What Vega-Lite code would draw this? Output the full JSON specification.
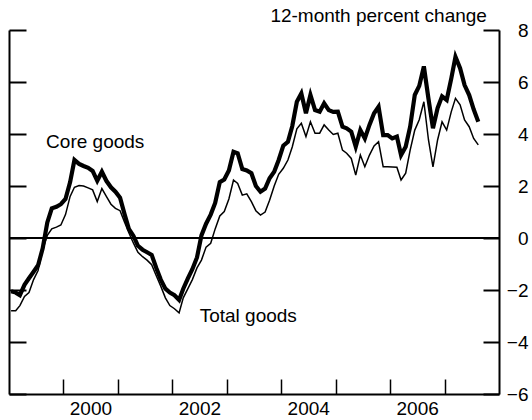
{
  "$schema": "https://vega.github.io/schema/vega-lite/v6.json",
  "width": 490,
  "height": 364,
  "autosize": {"type": "none"},
  "padding": {"left": 9, "top": 30, "right": 33, "bottom": 26},
  "background": "white",
  "config": {"view": {"stroke": null}, "font": "Liberation Sans"},
  "datasets": {
    "prices": [
      {"date": "1999-01-15", "core": -2.05, "total": -2.8},
      {"date": "1999-02-15", "core": -2.1, "total": -2.8},
      {"date": "1999-03-15", "core": -2.2, "total": -2.6},
      {"date": "1999-04-15", "core": -1.8, "total": -2.25},
      {"date": "1999-05-15", "core": -1.55, "total": -2.1},
      {"date": "1999-06-15", "core": -1.3, "total": -1.6},
      {"date": "1999-07-15", "core": -1.05, "total": -1.25},
      {"date": "1999-08-15", "core": -0.4, "total": -0.45},
      {"date": "1999-09-15", "core": 0.6, "total": 0.1},
      {"date": "1999-10-15", "core": 1.14, "total": 0.35},
      {"date": "1999-11-15", "core": 1.2, "total": 0.42},
      {"date": "1999-12-15", "core": 1.3, "total": 0.5},
      {"date": "2000-01-15", "core": 1.5, "total": 0.9},
      {"date": "2000-02-15", "core": 2.15, "total": 1.6},
      {"date": "2000-03-15", "core": 3.0, "total": 1.95},
      {"date": "2000-04-15", "core": 2.85, "total": 2.02},
      {"date": "2000-05-15", "core": 2.77, "total": 2.0},
      {"date": "2000-06-15", "core": 2.7, "total": 1.93},
      {"date": "2000-07-15", "core": 2.58, "total": 1.85},
      {"date": "2000-08-15", "core": 2.2, "total": 1.4},
      {"date": "2000-09-15", "core": 2.55, "total": 1.9},
      {"date": "2000-10-15", "core": 2.2, "total": 1.6},
      {"date": "2000-11-15", "core": 1.95, "total": 1.3},
      {"date": "2000-12-15", "core": 1.78, "total": 1.14},
      {"date": "2001-01-15", "core": 1.55, "total": 1.05},
      {"date": "2001-02-15", "core": 0.9, "total": 0.6},
      {"date": "2001-03-15", "core": 0.35, "total": 0.2},
      {"date": "2001-04-15", "core": 0.08, "total": -0.2},
      {"date": "2001-05-15", "core": -0.3, "total": -0.55},
      {"date": "2001-06-15", "core": -0.45, "total": -0.72},
      {"date": "2001-07-15", "core": -0.55, "total": -0.85},
      {"date": "2001-08-15", "core": -0.65, "total": -1.03},
      {"date": "2001-09-15", "core": -1.15, "total": -1.45},
      {"date": "2001-10-15", "core": -1.6, "total": -1.85},
      {"date": "2001-11-15", "core": -1.95, "total": -2.3},
      {"date": "2001-12-15", "core": -2.1, "total": -2.6},
      {"date": "2002-01-15", "core": -2.2, "total": -2.72},
      {"date": "2002-02-15", "core": -2.38, "total": -2.88},
      {"date": "2002-03-15", "core": -1.95, "total": -2.3},
      {"date": "2002-04-15", "core": -1.55, "total": -1.95},
      {"date": "2002-05-15", "core": -1.2, "total": -1.6},
      {"date": "2002-06-15", "core": -0.75, "total": -1.15},
      {"date": "2002-07-15", "core": 0.1, "total": -0.85},
      {"date": "2002-08-15", "core": 0.55, "total": -0.35},
      {"date": "2002-09-15", "core": 0.9, "total": -0.2},
      {"date": "2002-10-15", "core": 1.35, "total": 0.35},
      {"date": "2002-11-15", "core": 2.15, "total": 0.85},
      {"date": "2002-12-15", "core": 2.25, "total": 1.02},
      {"date": "2003-01-15", "core": 2.6, "total": 1.5},
      {"date": "2003-02-15", "core": 3.32, "total": 2.23},
      {"date": "2003-03-15", "core": 3.26, "total": 2.1},
      {"date": "2003-04-15", "core": 2.65, "total": 1.65},
      {"date": "2003-05-15", "core": 2.6, "total": 1.7},
      {"date": "2003-06-15", "core": 2.49, "total": 1.4},
      {"date": "2003-07-15", "core": 2.0, "total": 1.05},
      {"date": "2003-08-15", "core": 1.78, "total": 0.88},
      {"date": "2003-09-15", "core": 1.9, "total": 1.0},
      {"date": "2003-10-15", "core": 2.3, "total": 1.45},
      {"date": "2003-11-15", "core": 2.55, "total": 2.0},
      {"date": "2003-12-15", "core": 3.0, "total": 2.45},
      {"date": "2004-01-15", "core": 3.55, "total": 2.68},
      {"date": "2004-02-15", "core": 3.7, "total": 3.0},
      {"date": "2004-03-15", "core": 4.3, "total": 3.5},
      {"date": "2004-04-15", "core": 5.24, "total": 4.2},
      {"date": "2004-05-15", "core": 5.56, "total": 4.41},
      {"date": "2004-06-15", "core": 4.8, "total": 3.9},
      {"date": "2004-07-15", "core": 5.5, "total": 4.47},
      {"date": "2004-08-15", "core": 4.92, "total": 4.03},
      {"date": "2004-09-15", "core": 4.86, "total": 4.03},
      {"date": "2004-10-15", "core": 5.18, "total": 4.35},
      {"date": "2004-11-15", "core": 4.92, "total": 4.15},
      {"date": "2004-12-15", "core": 4.85, "total": 3.98},
      {"date": "2005-01-15", "core": 4.86, "total": 4.03},
      {"date": "2005-02-15", "core": 4.28, "total": 3.38},
      {"date": "2005-03-15", "core": 4.22, "total": 3.26},
      {"date": "2005-04-15", "core": 4.09, "total": 3.06},
      {"date": "2005-05-15", "core": 3.51, "total": 2.42},
      {"date": "2005-06-15", "core": 4.15, "total": 3.19},
      {"date": "2005-07-15", "core": 3.83, "total": 2.74},
      {"date": "2005-08-15", "core": 4.35, "total": 3.19},
      {"date": "2005-09-15", "core": 4.8, "total": 3.54},
      {"date": "2005-10-15", "core": 5.05, "total": 3.7},
      {"date": "2005-11-15", "core": 3.96, "total": 2.74},
      {"date": "2005-12-15", "core": 3.96, "total": 2.74},
      {"date": "2006-01-15", "core": 3.83, "total": 2.73},
      {"date": "2006-02-15", "core": 3.9, "total": 2.72},
      {"date": "2006-03-15", "core": 3.19, "total": 2.23},
      {"date": "2006-04-15", "core": 3.51, "total": 2.49},
      {"date": "2006-05-15", "core": 4.28, "total": 3.38},
      {"date": "2006-06-15", "core": 5.5, "total": 4.15},
      {"date": "2006-07-15", "core": 5.85, "total": 4.55},
      {"date": "2006-08-15", "core": 6.6, "total": 5.24},
      {"date": "2006-09-15", "core": 5.35, "total": 3.77},
      {"date": "2006-10-15", "core": 4.22, "total": 2.74},
      {"date": "2006-11-15", "core": 5.0, "total": 3.77},
      {"date": "2006-12-15", "core": 5.45, "total": 4.47},
      {"date": "2007-01-15", "core": 5.31, "total": 4.15},
      {"date": "2007-02-15", "core": 6.14, "total": 4.86},
      {"date": "2007-03-15", "core": 6.97, "total": 5.37},
      {"date": "2007-04-15", "core": 6.53, "total": 5.12},
      {"date": "2007-05-15", "core": 5.88, "total": 4.54},
      {"date": "2007-06-15", "core": 5.5, "total": 4.28},
      {"date": "2007-07-15", "core": 4.95, "total": 3.83},
      {"date": "2007-08-15", "core": 4.47, "total": 3.58}
    ]
  },
  "resolve": {"axis": {"y": "independent"}},
  "layer": [
    {
      "data": {"values": [{}]},
      "mark": {"type": "rule", "stroke": "black", "strokeWidth": 2},
      "encoding": {
        "y": {"datum": 0, "type": "quantitative", "scale": {"domain": [-6, 8], "nice": false},
          "axis": {"orient": "left", "values": [-6, -4, -2, 0, 2, 4, 6, 8], "labels": false, "tickSize": -17, "tickWidth": 2, "tickColor": "black", "domainColor": "black", "domainWidth": 2, "grid": false, "title": null}}
      }
    },
    {
      "data": {"name": "prices"},
      "transform": [{"fold": ["core", "total"], "as": ["series", "value"]}],
      "mark": {"type": "line", "stroke": "black", "strokeJoin": "miter"},
      "encoding": {
        "x": {"field": "date", "type": "temporal",
          "scale": {"type": "utc", "domain": [{"year": 1999, "month": 1, "date": 1, "utc": true}, {"year": 2008, "month": 1, "date": 1, "utc": true}]},
          "axis": {"orient": "bottom", "values": [
              {"year": 2000, "month": 1, "date": 1, "utc": true},
              {"year": 2001, "month": 1, "date": 1, "utc": true},
              {"year": 2002, "month": 1, "date": 1, "utc": true},
              {"year": 2003, "month": 1, "date": 1, "utc": true},
              {"year": 2004, "month": 1, "date": 1, "utc": true},
              {"year": 2005, "month": 1, "date": 1, "utc": true},
              {"year": 2006, "month": 1, "date": 1, "utc": true},
              {"year": 2007, "month": 1, "date": 1, "utc": true}],
            "labelExpr": "utcyear(datum.value) % 2 == 0 ? utcFormat(datum.value, '%Y') : ''",
            "labelOffset": 27, "labelPadding": 20, "labelFontSize": 19, "labelFont": "Liberation Sans", "labelColor": "black",
            "labelFlush": false, "labelOverlap": false, "labelBound": false,
            "tickSize": -15, "tickWidth": 1.5, "tickColor": "black", "domainColor": "black", "domainWidth": 2, "grid": false, "title": null}},
        "y": {"field": "value", "type": "quantitative", "scale": {"domain": [-6, 8], "nice": false},
          "axis": {"orient": "right", "values": [-6, -4, -2, 0, 2, 4, 6, 8], "tickSize": -16, "tickWidth": 2, "tickColor": "black",
            "labelAlign": "right", "labelPadding": 45, "labelFontSize": 19, "labelFont": "Liberation Sans", "labelColor": "black",
            "labelFlush": false, "labelOverlap": false, "labelBound": false,
            "domainColor": "black", "domainWidth": 2, "grid": false, "title": null}},
        "detail": {"field": "series"},
        "strokeWidth": {"field": "series", "type": "nominal", "scale": {"domain": ["core", "total"], "range": [4.2, 1.5]}, "legend": null}
      }
    },
    {
      "data": {"values": [{}]},
      "mark": {"type": "text", "text": "Core goods", "align": "left", "baseline": "middle", "fontSize": 19, "font": "Liberation Sans", "color": "black"},
      "encoding": {
        "x": {"datum": {"year": 1999, "month": 9, "date": 7, "utc": true}, "type": "temporal", "scale": {"type": "utc"}},
        "y": {"datum": 3.7, "type": "quantitative", "axis": null}
      }
    },
    {
      "data": {"values": [{}]},
      "mark": {"type": "text", "text": "Total goods", "align": "left", "baseline": "middle", "fontSize": 19, "font": "Liberation Sans", "color": "black"},
      "encoding": {
        "x": {"datum": {"year": 2002, "month": 7, "date": 3, "utc": true}, "type": "temporal", "scale": {"type": "utc"}},
        "y": {"datum": -3.0, "type": "quantitative", "axis": null}
      }
    },
    {
      "data": {"values": [{}]},
      "mark": {"type": "text", "text": "12-month percent change", "align": "right", "baseline": "middle", "fontSize": 19, "font": "Liberation Sans", "color": "black"},
      "encoding": {
        "x": {"datum": {"year": 2007, "month": 10, "date": 12, "utc": true}, "type": "temporal", "scale": {"type": "utc"}},
        "y": {"datum": 8.55, "type": "quantitative", "axis": null}
      }
    }
  ]
}
